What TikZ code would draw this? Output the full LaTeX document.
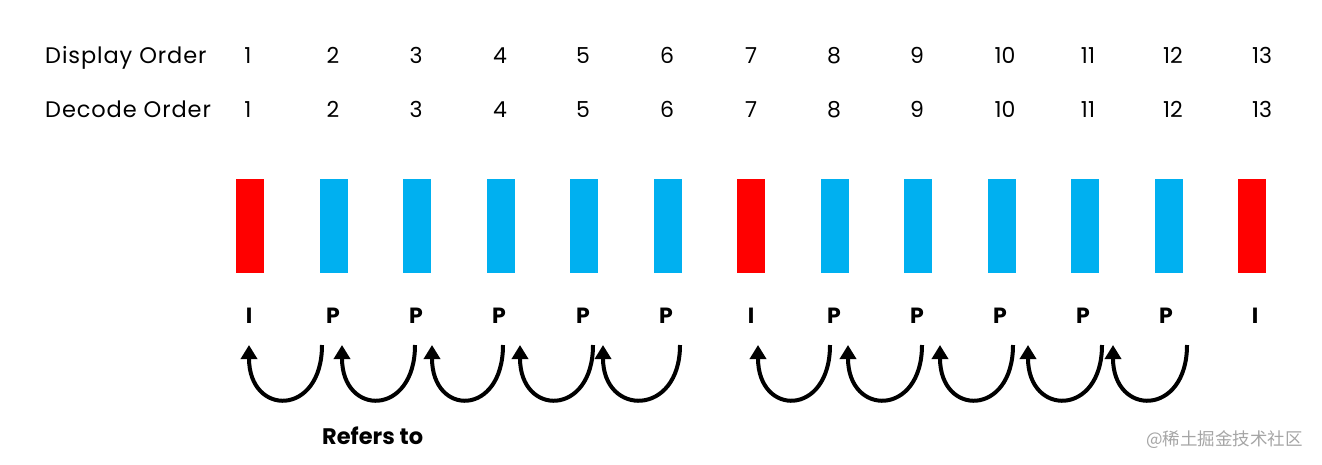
\documentclass[tikz,border=0pt]{standalone}
\usepackage{fontspec}
\setmainfont{Poppins}
\newfontfamily\rowfont[LetterSpace=4]{Poppins}
\newfontfamily\cjkfont{Noto Sans CJK SC}
\usetikzlibrary{arrows.meta}
\definecolor{iframe}{RGB}{255,0,0}
\definecolor{pframe}{RGB}{0,176,240}
\definecolor{wmgrey}{RGB}{165,165,165}
\tikzset{
  rowlabel/.style={anchor=base west, inner sep=0pt, font=\rowfont\fontsize{22.5}{24}\selectfont},
  num/.style={anchor=base, inner sep=0pt, font=\fontsize{22}{24}\selectfont},
  ftype/.style={anchor=base, inner sep=0pt, font=\fontsize{22}{24}\selectfont\bfseries},
  ibar/.style={fill=iframe, draw=none, minimum width=28pt, minimum height=94pt, inner sep=0pt},
  pbar/.style={fill=pframe, draw=none, minimum width=28pt, minimum height=94pt, inner sep=0pt},
  refarc/.style={line width=4pt, -{Triangle[width=16pt,length=14pt]}},
}
\begin{document}
\begin{tikzpicture}[x=1pt,y=-1pt]
\useasboundingbox (0,0) rectangle (1322,464);
% row labels
\node[rowlabel] (disp) at (45,63) {Display Order};
\node[rowlabel] (dec) at (45,117) {Decode Order};
% numbers
\foreach \n/\x in {1/248,2/333,3/416,4/500,5/583,6/667,7/751,8/834,9/917,10/1005,11/1088,12/1173,13/1262}{
  \node[num] (d\n) at (\x,63) {\n};
  \node[num] (c\n) at (\x,117) {\n};
}
% bars
\foreach \n/\x/\s in {1/250/ibar,2/333.5/pbar,3/417/pbar,4/500.5/pbar,5/584/pbar,6/667.5/pbar,7/751/ibar,8/834.5/pbar,9/918/pbar,10/1001.5/pbar,11/1085/pbar,12/1168.5/pbar,13/1252/ibar}{
  \node[\s] (b\n) at (\x,226) {};
}
% frame types
\foreach \n/\x/\t in {1/249/I,2/333/P,3/416/P,4/499/P,5/583/P,6/666/P,7/751/I,8/834/P,9/917/P,10/1000/P,11/1083/P,12/1166/P,13/1255/I}{
  \node[ftype] (t\n) at (\x,323) {\t};
}
% arc end points
\foreach \k/\e/\t in {1/322/249,2/415/342,3/503/432,4/593/520,5/680/603,6/830/758,7/922/848,8/1013/940,9/1102/1028,10/1187/1113}{
  \coordinate (s\k) at (\e,345);
  \coordinate (e\k) at (\t,345);
}
\foreach \k in {1,...,10}{
  \draw[refarc] (s\k) .. controls ([yshift=-72pt]s\k) and ([yshift=-72pt]e\k) .. (e\k);
}
\node[anchor=base west, inner sep=0pt, font=\fontsize{22.5}{24}\selectfont\bfseries] (ref) at (322,444) {Refers to};
\node[anchor=base west, inner sep=0pt, text=wmgrey, font=\cjkfont\fontsize{17.5}{19}\selectfont] (wm) at (1146,445) {@稀土掘金技术社区};
\end{tikzpicture}
\end{document}
